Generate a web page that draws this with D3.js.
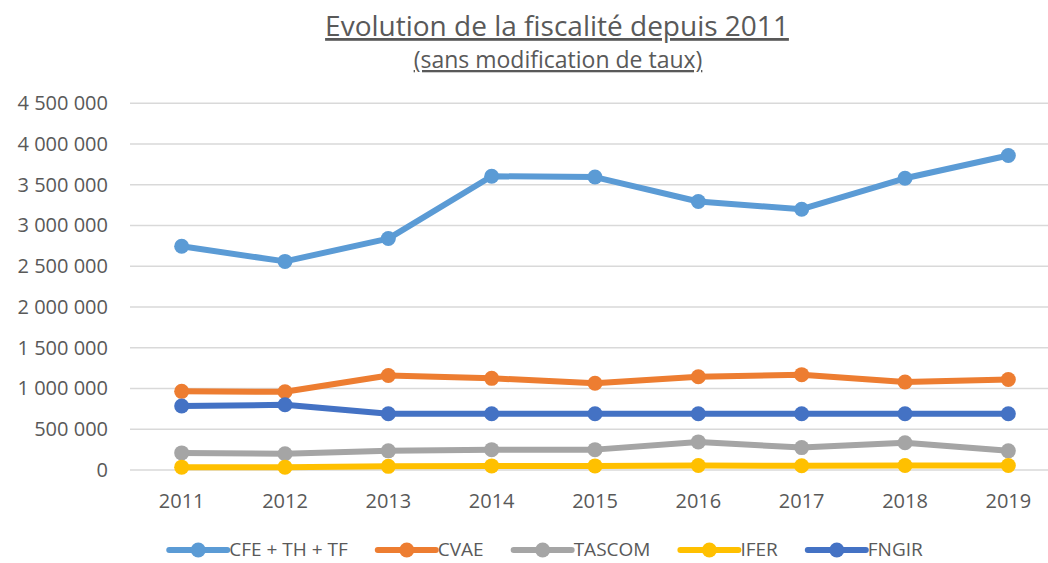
<!DOCTYPE html>
<html>
<head>
<meta charset="utf-8">
<script src="https://cdn.jsdelivr.net/npm/d3@7"></script>
<style>
  body { margin: 0; background: #fff; }
  svg text { font-family: "Open Sans", "Noto Sans", sans-serif; fill: #595959; }
</style>
</head>
<body>
<div id="chart"></div>
<script>
// data
var years = ["2011", "2012", "2013", "2014", "2015", "2016", "2017", "2018", "2019"];
var cfe    = [2745000, 2560000, 2840000, 3605000, 3595000, 3295000, 3200000, 3580000, 3860000];
var cvae   = [ 965000,  960000, 1160000, 1125000, 1065000, 1145000, 1170000, 1080000, 1110000];
var tascom = [ 210000,  200000,  235000,  250000,  250000,  345000,  275000,  335000,  235000];
var ifer   = [  35000,   35000,   45000,   50000,   50000,   55000,   52000,   55000,   55000];
var fngir  = [ 785000,  800000,  690000,  690000,  690000,  690000,  690000,  690000,  690000];
var yTicks = [0, 500000, 1000000, 1500000, 2000000, 2500000, 3000000, 3500000, 4000000, 4500000];

var series = [
  {name: "CFE + TH + TF", color: "#5B9BD5", values: cfe},
  {name: "CVAE", color: "#ED7D31", values: cvae},
  {name: "TASCOM", color: "#A5A5A5", values: tascom},
  {name: "IFER", color: "#FFC000", values: ifer},
  {name: "FNGIR", color: "#4472C4", values: fngir}
];

var W = 1048, H = 563;
var svg = d3.select("#chart").append("svg").attr("width", W).attr("height", H);

var fr = d3.formatLocale({decimal: ",", thousands: " ", grouping: [3], currency: ["", " €"]});
var fmt = fr.format(",");

var x = d3.scaleBand().domain(years).range([130, 1060]).padding(0);
var xc = function (d) { return x(d) + x.bandwidth() / 2; };
var y = d3.scaleLinear().domain([0, 4500000]).range([470, 103.3]);

// gridlines
svg.append("g").selectAll("line").data(yTicks).enter().append("line")
  .attr("x1", 130).attr("x2", 1060)
  .attr("y1", function (d) { return y(d); }).attr("y2", function (d) { return y(d); })
  .attr("stroke", "#d9d9d9").attr("stroke-width", 1.5);

// axes
var axY = svg.append("g").attr("transform", "translate(130,0)")
  .call(d3.axisLeft(y).tickValues(yTicks).tickFormat(fmt).tickSize(0).tickPadding(22));
axY.select(".domain").remove();
axY.selectAll("text").style("font-size", "20px").attr("fill", "#595959");

var axX = svg.append("g").attr("transform", "translate(0,470)")
  .call(d3.axisBottom(x).tickSize(0).tickPadding(24));
axX.select(".domain").remove();
axX.selectAll("text").style("font-size", "20px").attr("fill", "#595959");

// lines + markers
var line = d3.line().x(function (d, i) { return xc(years[i]); }).y(function (d) { return y(d); });
series.forEach(function (s) {
  var g = svg.append("g");
  g.append("path").datum(s.values).attr("d", line)
    .attr("fill", "none").attr("stroke", s.color).attr("stroke-width", 6)
    .attr("stroke-linejoin", "round");
  g.selectAll("circle").data(s.values).enter().append("circle")
    .attr("cx", function (d, i) { return xc(years[i]); })
    .attr("cy", function (d) { return y(d); })
    .attr("r", 7.5).attr("fill", s.color);
});

// title
svg.append("text").attr("x", 557).attr("y", 36).attr("text-anchor", "middle")
  .style("font-size", "28px").style("text-decoration", "underline")
  .text("Evolution de la fiscalité depuis 2011");
svg.append("text").attr("x", 558).attr("y", 68).attr("text-anchor", "middle")
  .style("font-size", "23px").style("text-decoration", "underline")
  .text("(sans modification de taux)");

// legend
var leg = svg.append("g");
var lx = 0, ly = 550;
series.forEach(function (s, i) {
  var it = leg.append("g").attr("transform", "translate(" + lx + ",0)");
  it.append("line").attr("x1", 0).attr("x2", 58).attr("y1", ly).attr("y2", ly)
    .attr("stroke", s.color).attr("stroke-width", 6).attr("stroke-linecap", "round");
  it.append("circle").attr("cx", 29).attr("cy", ly).attr("r", 7.5).attr("fill", s.color);
  var t = it.append("text").attr("x", 60).attr("y", ly).attr("dy", "0.33em")
    .style("font-size", "19px").text(s.name);
  lx += 60 + t.node().getComputedTextLength() + 30;
});
var lw = lx - 30;
leg.attr("transform", "translate(" + (546 - lw / 2) + ",0)");
</script>
</body>
</html>
